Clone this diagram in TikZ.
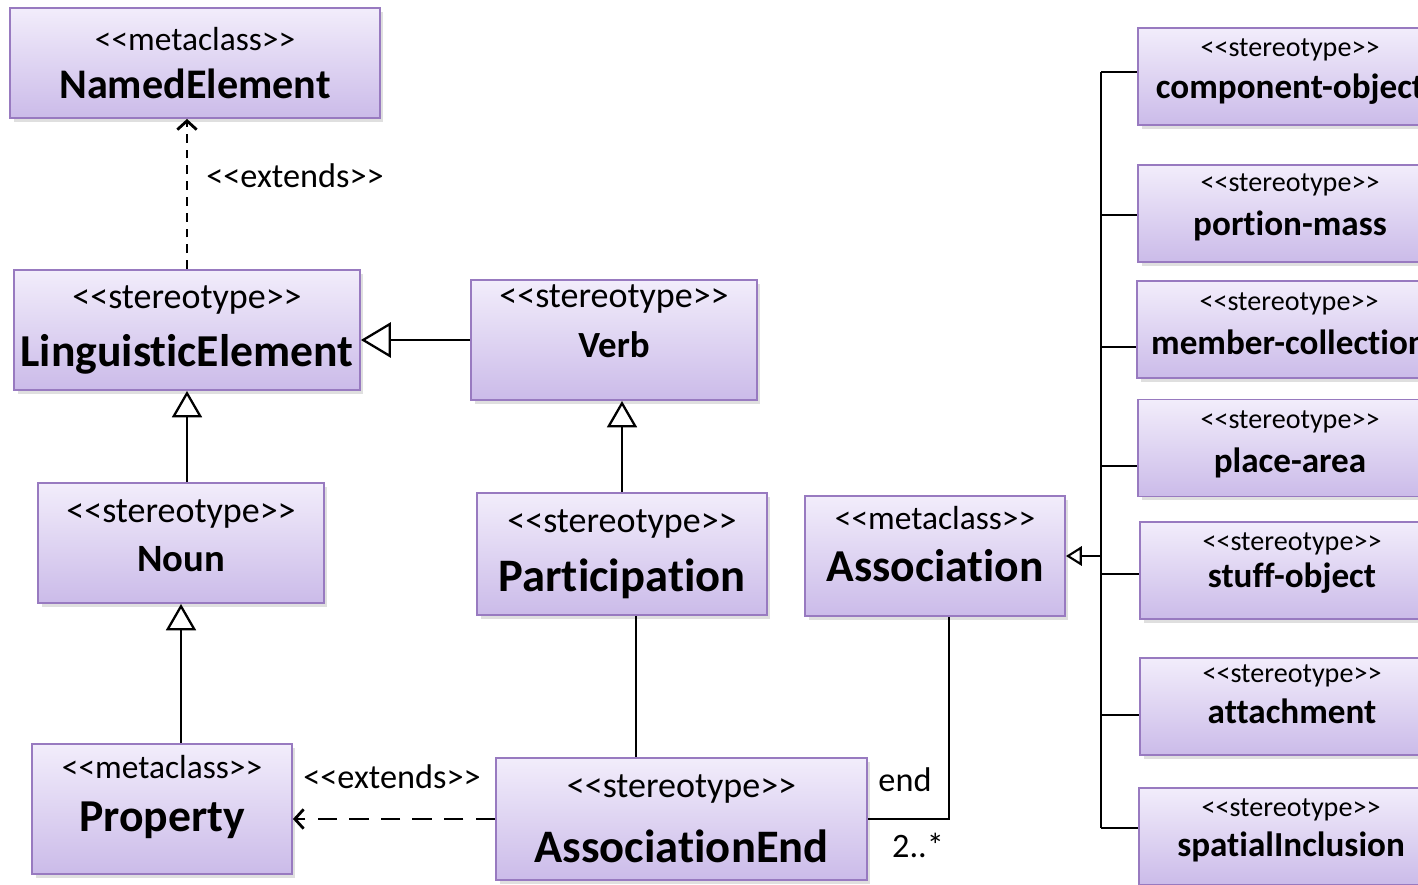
\documentclass[tikz,border=0pt]{standalone}
\usepackage{fontspec}
\setmainfont{Carlito}[Ligatures={NoCommon}]
\usetikzlibrary{arrows.meta, shadows}

\definecolor{boxtop}{RGB}{242,237,251}
\definecolor{boxbottom}{RGB}{203,187,233}
\definecolor{boxline}{RGB}{152,122,192}

\newcommand{\stereo}[1]{\textless\kern0pt\textless#1\textgreater\kern0pt\textgreater}
\newcommand{\umltext}[4]{\stereo{#1}\\[#4]\fontsize{#3}{23}\selectfont\bfseries #2}

\tikzset{
  umlbox/.style={rectangle, draw=boxline, line width=1.1pt,
    top color=boxtop, bottom color=boxbottom,
    drop shadow={shadow xshift=2pt, shadow yshift=-2pt, opacity=0.25},
    align=center, inner sep=0pt, font=\fontsize{19}{23}\selectfont},
  stereobox/.style={umlbox, font=\fontsize{20.5}{23}\selectfont},
  sidebox/.style={umlbox, minimum width=6.08cm, minimum height=1.94cm,
    font=\fontsize{16}{19}\selectfont},
  note/.style={font=\fontsize{19.5}{23}\selectfont, inner sep=0pt},
  link/.style={line width=1.6pt},
  generalize/.style={link, -{Triangle[open, length=15pt, width=17pt, line width=1.3pt]}},
  extends/.style={link, -{Straight Barb[length=5pt, width=11pt]}},
}

\begin{document}
\begin{tikzpicture}[x=0.02cm, y=-0.02cm]
  \useasboundingbox (0,0) rectangle (1418,885);
  \clip (0,0) rectangle (1418,885);

  % left part
  \node[umlbox, minimum width=7.4cm, minimum height=2.2cm] (named) at (195,63) {\umltext{metaclass}{NamedElement}{24}{4pt}};
  \node[stereobox, minimum width=6.92cm, minimum height=2.4cm] (ling) at (187,330) {\umltext{stereotype}{LinguisticElement}{26}{10.5pt}};
  \node[stereobox, minimum width=5.72cm, minimum height=2.4cm, text depth=21.5pt] (verb) at (614,340) {\umltext{stereotype}{Verb}{21}{5pt}};
  \node[stereobox, minimum width=5.72cm, minimum height=2.4cm, text depth=8pt] (noun) at (181,543) {\umltext{stereotype}{Noun}{22}{5pt}};
  \node[stereobox, minimum width=5.8cm, minimum height=2.44cm] (part) at (622,554) {\umltext{stereotype}{Participation}{26.5}{10.5pt}};
  \node[umlbox, minimum width=5.2cm, minimum height=2.4cm, text depth=13.6pt] (assoc) at (935,556) {\umltext{metaclass}{Association}{26}{6.5pt}};
  \node[umlbox, minimum width=5.2cm, minimum height=2.6cm, text depth=18pt] (prop) at (162,809) {\umltext{metaclass}{Property}{26}{7pt}};
  \node[stereobox, minimum width=7.42cm, minimum height=2.44cm] (assocend) at (681.5,819) {\umltext{stereotype}{AssociationEnd}{26.5}{14pt}};

  % right column
  \node[sidebox, text depth=9pt] (comp) at (1290,76.5) {\umltext{stereotype}{component-object}{20}{5.4pt}};
  \node[sidebox, text depth=10.4pt] (portion) at (1290,213.5) {\umltext{stereotype}{portion-mass}{20}{6pt}};
  \node[sidebox, text depth=6.2pt] (member) at (1289,329.5) {\umltext{stereotype}{member-collection}{20}{6pt}};
  \node[sidebox, text depth=7pt] (place) at (1290,448) {\umltext{stereotype}{place-area}{20}{6pt}};
  \node[sidebox, text depth=11.6pt] (stuff) at (1292,570.5) {\umltext{stereotype}{stuff-object}{20}{2pt}};
  \node[sidebox, text depth=14pt] (attach) at (1292,706.5) {\umltext{stereotype}{attachment}{20}{4pt}};
  \node[sidebox, text depth=10.4pt] (spatial) at (1291,836.5) {\umltext{stereotype}{spatialInclusion}{20}{3.7pt}};

  % connectors
  \draw[extends, dash pattern=on 5pt off 4pt] (ling.north) -- (ling.north |- named.south);
  \node[note] (ext1) at (295,176) {\stereo{extends}};
  \draw[generalize, -{Triangle[open, length=17pt, width=20pt, line width=1.3pt]}] (verb.west) -- (verb.west -| ling.east);
  \draw[generalize] (ling.south |- noun.north) -- (ling.south);
  \draw[generalize] (part.north) -- (part.north |- verb.south);
  \draw[generalize] (noun.south |- prop.north) -- (noun.south);
  \draw[link] ([xshift=0.28cm]part.south) -- ([xshift=0.28cm]part.south |- assocend.north);
  \draw[extends, dash pattern=on 11pt off 7pt] (assocend.west) -- (assocend.west -| prop.east);
  \node[note] (ext2) at (392,777) {\stereo{extends}};
  \draw[link] (assocend.east) -| ([xshift=0.28cm]assoc.south);
  \node[note] (endrole) at (905,780) {end};
  \node[note] (endmult) at (918,845) {2..*};

  % bus to Association
  \coordinate (busx) at (1101,0);
  \foreach \n/\d in {comp/0.09, portion/-0.03, member/-0.35, place/-0.36, stuff/-0.07, attach/-0.17, spatial/0.17} {
    \coordinate (s-\n) at ([yshift=\d cm]\n.west);
    \draw[link] (busx |- s-\n) -- (s-\n);
  }
  \draw[link] (busx |- s-comp) -- (busx |- s-spatial);
  \draw[link, -{Triangle[open, length=9pt, width=11pt, line width=1.2pt]}] (busx |- assoc.east) -- (assoc.east);
\end{tikzpicture}
\end{document}
